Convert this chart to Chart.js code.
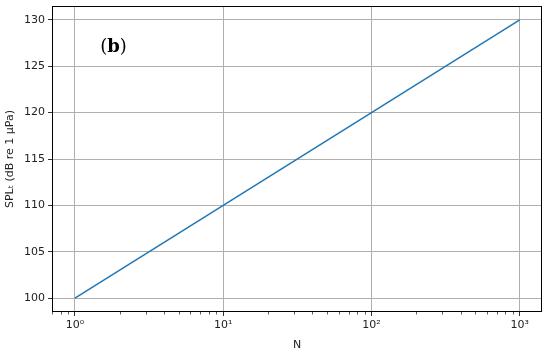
<!DOCTYPE html>
<html lang="en">
<head>
  <meta charset="UTF-8">
  <title>SPL vs N</title>
  <script src="https://cdn.jsdelivr.net/npm/chart.js"></script>
  <style>
    html, body { margin: 0; padding: 0; background: #fff; }
    #wrap { width: 550px; height: 352px; }
  </style>
</head>
<body>
<div id="wrap"><canvas id="splChart" width="550" height="352"></canvas></div>
<script>
  // values
  const nValues = [1, 10, 100, 1000];
  const splValues = [100, 110, 120, 130];
  const xTicks = [1, 10, 100, 1000];
  const xTickLabels = ['10\u2070', '10\u00b9', '10\u00b2', '10\u00b3'];
  const yTicks = [100, 105, 110, 115, 120, 125, 130];

  const font = { family: 'DejaVu Sans', size: 11 };

  // box around the plot + minor log ticks + panel tag
  const framePlugin = {
    id: 'frame',
    afterDraw(chart) {
      const ctx = chart.ctx;
      const a = chart.chartArea;
      const xs = chart.scales.x;
      ctx.save();
      ctx.strokeStyle = '#000';
      ctx.lineWidth = 1;
      ctx.strokeRect(a.left + 0.5, a.top + 0.5, a.right - a.left - 1, a.bottom - a.top - 1);

      // minor ticks 2..9 per decade
      ctx.strokeStyle = '#333';
      ctx.lineWidth = 0.8;
      for (let d = 0.1; d <= 1000; d *= 10) {
        for (let m = 2; m <= 9; m++) {
          const v = d * m;
          if (v < xs.min || v > xs.max) continue;
          const px = Math.round(xs.getPixelForValue(v)) + 0.5;
          ctx.beginPath();
          ctx.moveTo(px, a.bottom);
          ctx.lineTo(px, a.bottom + 2.5);
          ctx.stroke();
        }
      }

      // (b) label
      const tx = a.left + 0.125 * (a.right - a.left);
      const ty = a.top + 0.135 * (a.bottom - a.top);
      ctx.fillStyle = '#000';
      ctx.textBaseline = 'middle';
      ctx.textAlign = 'left';
      ctx.font = '18px "DejaVu Serif"';
      const w1 = ctx.measureText('(').width;
      ctx.fillText('(', tx - 13, ty);
      ctx.font = 'bold 18px "DejaVu Serif"';
      const w2 = ctx.measureText('b').width;
      ctx.fillText('b', tx - 13 + w1, ty);
      ctx.font = '18px "DejaVu Serif"';
      ctx.fillText(')', tx - 13 + w1 + w2, ty);
      ctx.restore();
    }
  };

  const ctx = document.getElementById('splChart').getContext('2d');
  new Chart(ctx, {
    type: 'line',
    data: {
      labels: nValues,
      datasets: [{
        data: nValues.map((n, i) => ({ x: n, y: splValues[i] })),
        borderColor: '#1f77b4',
        borderWidth: 1.5,
        pointRadius: 0,
        fill: false,
        tension: 0
      }]
    },
    options: {
      responsive: false,
      animation: false,
      layout: { padding: { left: 0, right: 8, top: 6, bottom: 0 } },
      plugins: { legend: { display: false }, tooltip: { enabled: false } },
      scales: {
        x: {
          type: 'logarithmic',
          min: 0.708,
          max: 1413,
          afterBuildTicks(scale) {
            scale.ticks = xTicks.map(v => ({ value: v }));
          },
          afterFit(scale) {
            scale.height = 40;
            scale.paddingLeft = 0;
            scale.paddingRight = 0;
          },
          ticks: {
            autoSkip: false,
            maxRotation: 0,
            color: '#222',
            font: font,
            padding: 3,
            callback: (v) => {
              const i = xTicks.indexOf(v);
              return i >= 0 ? xTickLabels[i] : '';
            }
          },
          grid: { color: '#b0b0b0', lineWidth: 1, tickLength: 4, tickColor: '#333' },
          border: { display: false },
          title: { display: true, text: 'N', color: '#222', font: font, padding: { top: 2, bottom: 0 } }
        },
        y: {
          type: 'linear',
          min: 98.5,
          max: 131.5,
          afterBuildTicks(scale) {
            scale.ticks = yTicks.map(v => ({ value: v }));
          },
          afterFit(scale) {
            scale.width = 52;
            scale.paddingTop = 0;
            scale.paddingBottom = 0;
          },
          ticks: { color: '#222', font: font, padding: 3 },
          grid: { color: '#b0b0b0', lineWidth: 1, tickLength: 4, tickColor: '#333' },
          border: { display: false },
          title: { display: true, text: 'SPL\u209c (dB re 1 \u03bcPa)', color: '#222', font: font, padding: { top: 4, bottom: 2 } }
        }
      }
    },
    plugins: [framePlugin]
  });
</script>
</body>
</html>
